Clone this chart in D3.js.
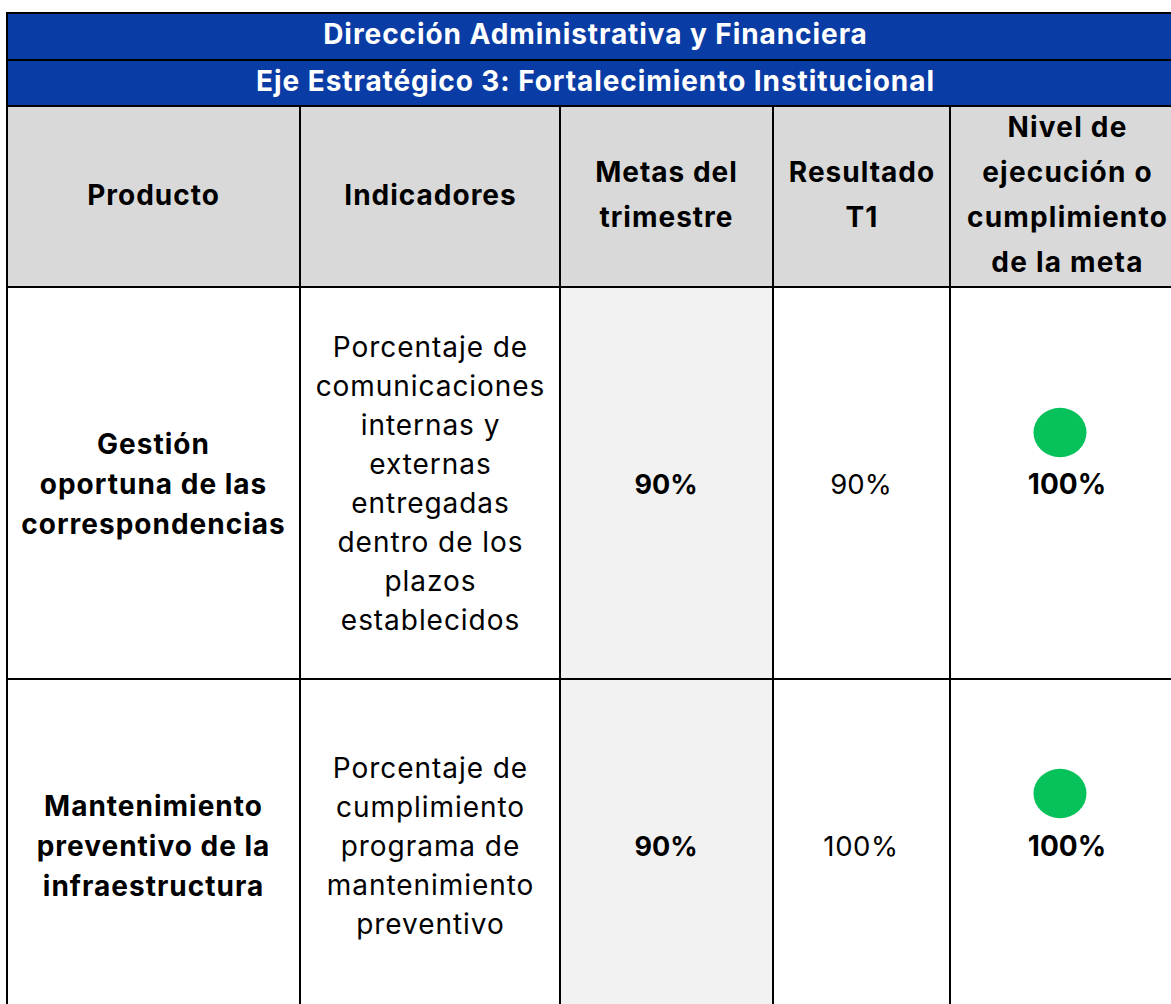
<!DOCTYPE html>
<html><head><meta charset="utf-8"><style>html,body{margin:0;padding:0;background:#fff}svg{display:block}</style>
<script src="https://cdnjs.cloudflare.com/ajax/libs/d3/7.8.5/d3.min.js"></script></head><body><div id="c"></div><script>
const titles=["Dirección Administrativa y Financiera","Eje Estratégico 3: Fortalecimiento Institucional"];
const headers=[["Producto"],["Indicadores"],["Metas del","trimestre"],["Resultado","T1"],["Nivel de","ejecución o","cumplimiento","de la meta"]];
const productos=[["Gestión","oportuna de las","correspondencias"],["Mantenimiento","preventivo de la","infraestructura"]];
const indicadores=[["Porcentaje de","comunicaciones","internas y","externas","entregadas","dentro de los","plazos","establecidos"],["Porcentaje de","cumplimiento","programa de","mantenimiento","preventivo"]];
const metas=["90%","90%"];
const resultados=["90%","100%"];
const cumplimiento=["100%","100%"];
const colEdges=[7,300,560,773,950,1171];
const rowEdges=[13,60,106,287,679,1004];
const F="Inter,sans-serif";
const svg=d3.select("#c").append("svg").attr("width",1171).attr("height",1004).style("font-family",F);
function rect(x0,y0,x1,y1,fill){svg.append("rect").attr("x",x0).attr("y",y0).attr("width",x1-x0).attr("height",y1-y0).attr("fill",fill);}
function lines(ls,cx,cy,lh,size,weight,ls2=0){ls.forEach((t,i)=>svg.append("text").attr("x",cx).attr("y",cy+(i-(ls.length-1)/2)*lh).attr("text-anchor","middle").attr("dominant-baseline","central").attr("font-size",size).attr("font-weight",weight).attr("letter-spacing",ls2).attr("fill","#000").text(t));}
const L=colEdges[0],R=1171;
rect(L,rowEdges[0],R,rowEdges[2],"#0a3ca5");
rect(L,rowEdges[2],R,rowEdges[3],"#d9d9d9");
rect(colEdges[2],rowEdges[3],colEdges[3],1004,"#f2f2f2");
titles.forEach((t,i)=>svg.append("text").attr("x",595.5).attr("y",(rowEdges[i]+rowEdges[i+1])/2-2.5).attr("text-anchor","middle").attr("dominant-baseline","central").attr("font-size",28).attr("font-weight",700).attr("letter-spacing",0.93).attr("fill","#fff").text(t));
headers.forEach((h,i)=>lines(h,[153.5,430.5,666.5,862,1067.5][i],194.5,45,28,700,i==4?1.2:1));
[0,1].forEach(r=>{
 const y0=r?846:484;
 lines(productos[r],153.5,y0,40,28,700,1);
 lines(indicadores[r],430.5,y0-0.5,39,28,400,0.95);
 lines([metas[r]],666,y0,40,27,700,0);
 lines([resultados[r]],861,y0,40,27.5,400,r?0.6:0);
 lines([cumplimiento[r]],1067,y0,40,28,700,0);
 svg.append("ellipse").attr("cx",1060).attr("cy",r?793.5:432.5).attr("rx",26.5).attr("ry",24.7).attr("fill","#07c25b");
});
const line=(a,b,c,d)=>svg.append("line").attr("x1",a).attr("y1",b).attr("x2",c).attr("y2",d).attr("stroke","#000").attr("stroke-width",2);
rowEdges.slice(0,5).forEach(y=>line(L-1,y,R,y));
colEdges.slice(0,1).forEach(x=>line(x,rowEdges[0],x,1004));
colEdges.slice(1,5).forEach(x=>line(x,rowEdges[2],x,1004));
</script></body></html>
